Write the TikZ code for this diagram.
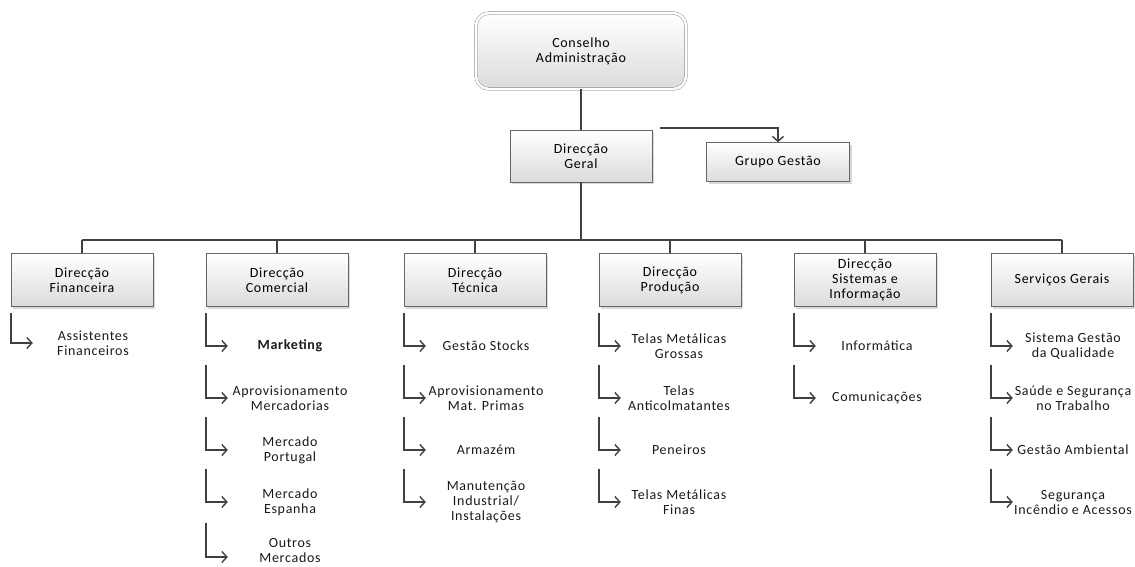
\documentclass[tikz,border=0pt]{standalone}
\usepackage{fontspec}
\setmainfont{Carlito}[LetterSpace=5]
\usetikzlibrary{arrows.meta,shadows}

\tikzset{
  unit/.style={draw=black!60, top color=white, bottom color=black!14, minimum width=142pt, minimum height=53pt, align=center, inner sep=2pt, drop shadow={shadow xshift=2pt,shadow yshift=-2pt,fill=black!30}},
  board/.style={draw=black!50, double=white, double distance=2.5pt, rounded corners=13pt, top color=white, bottom color=black!14, minimum width=210pt, minimum height=76pt, align=center},
  item/.style={align=center, text=black!90},
  link/.style={draw=black!75, line width=1.4pt},
  tip/.style={link, -{Straight Barb[length=5pt,width=11pt]}},
}

\begin{document}
\begin{tikzpicture}[x=1pt,y=-1pt,font=\fontsize{14}{15}\selectfont]
\useasboundingbox (0,0) rectangle (1135,566);

\node[board] (cons) at (581,51) {Conselho\\Administração};
\node[unit, minimum height=52pt] (dir) at (581,156) {Direcção\\Geral};
\node[unit, minimum height=39pt, minimum width=143pt] (grp) at (778,162) {Grupo Gestão};
\coordinate (bus) at (581,240);

\draw[link] (cons) -- (dir);
\draw[link] (dir) -- (bus);
\draw[tip] ([xshift=8pt,yshift=2pt]dir.north east) -| (grp.north);

% direcções
\foreach \n/\x/\t in {fin/82/{Direcção\\Financeira}, com/277/{Direcção\\Comercial}, tec/475/{Direcção\\Técnica}, pro/670/{Direcção\\Produção}, sis/865/{Direcção\\Sistemas e\\Informação}, ser/1062/{Serviços Gerais}}
  \node[unit] (\n) at (\x,280) {\t};

\draw[link] (fin.north |- bus) -- (ser.north |- bus);
\foreach \n in {fin,com,tec,pro,sis,ser} {\draw[link] (\n.north |- bus) -- (\n.north);}

% sub-unidades
\foreach \k/\t in {1/{Assistentes\\Financeiros}}
  \node[item] (fin\k) at ([xshift=11pt,yshift={-63-52*(\k-1)}]fin.center) {\t};
\foreach \k/\t in {1/{\bfseries Marketing}, 2/{Aprovisionamento\\Mercadorias}, 3/{Mercado\\Portugal}, 4/{Mercado\\Espanha}}
  \node[item] (com\k) at ([xshift=13pt,yshift={-66-52*(\k-1)}]com.center) {\t};
\node[item] (com5) at ([xshift=13pt,yshift=-270pt]com.center) {Outros\\Mercados};
\foreach \k/\t in {1/{Gestão Stocks}, 2/{Aprovisionamento\\Mat. Primas}, 3/{Armazém}, 4/{Manutenção\\Industrial/\\Instalações}}
  \node[item] (tec\k) at ([xshift=11pt,yshift={-66-52*(\k-1)}]tec.center) {\t};
\foreach \k/\t in {1/{Telas Metálicas\\Grossas}, 2/{Telas\\Anticolmatantes}, 3/{Peneiros}, 4/{Telas Metálicas\\Finas}}
  \node[item] (pro\k) at ([xshift=9pt,yshift={-66-52*(\k-1)}]pro.center) {\t};
\foreach \k/\t in {1/{Informática}, 2/{Comunicações}}
  \node[item] (sis\k) at ([xshift=12pt,yshift={-66-52*(\k-1)}]sis.center) {\t};
\foreach \k/\t in {1/{Sistema Gestão\\da Qualidade}, 2/{Saúde e Segurança\\no Trabalho}, 3/{Gestão Ambiental}, 4/{Segurança\\Incêndio e Acessos}}
  \node[item] (ser\k) at ([xshift=11pt,yshift={-66-52*(\k-1)}]ser.center) {\t};

\foreach \n/\m in {fin/1, com/4, tec/4, pro/4, sis/2, ser/4}
  \foreach \k in {1,...,\m}
    {\draw[tip] ([yshift={-6-52*(\k-1)}]\n.south west) |- ([xshift=22pt]\n.west |- \n\k);}
\draw[tip] ([yshift=-216pt]com.south west) |- ([xshift=22pt,yshift=-7pt]com.west |- com5);
\end{tikzpicture}
\end{document}
